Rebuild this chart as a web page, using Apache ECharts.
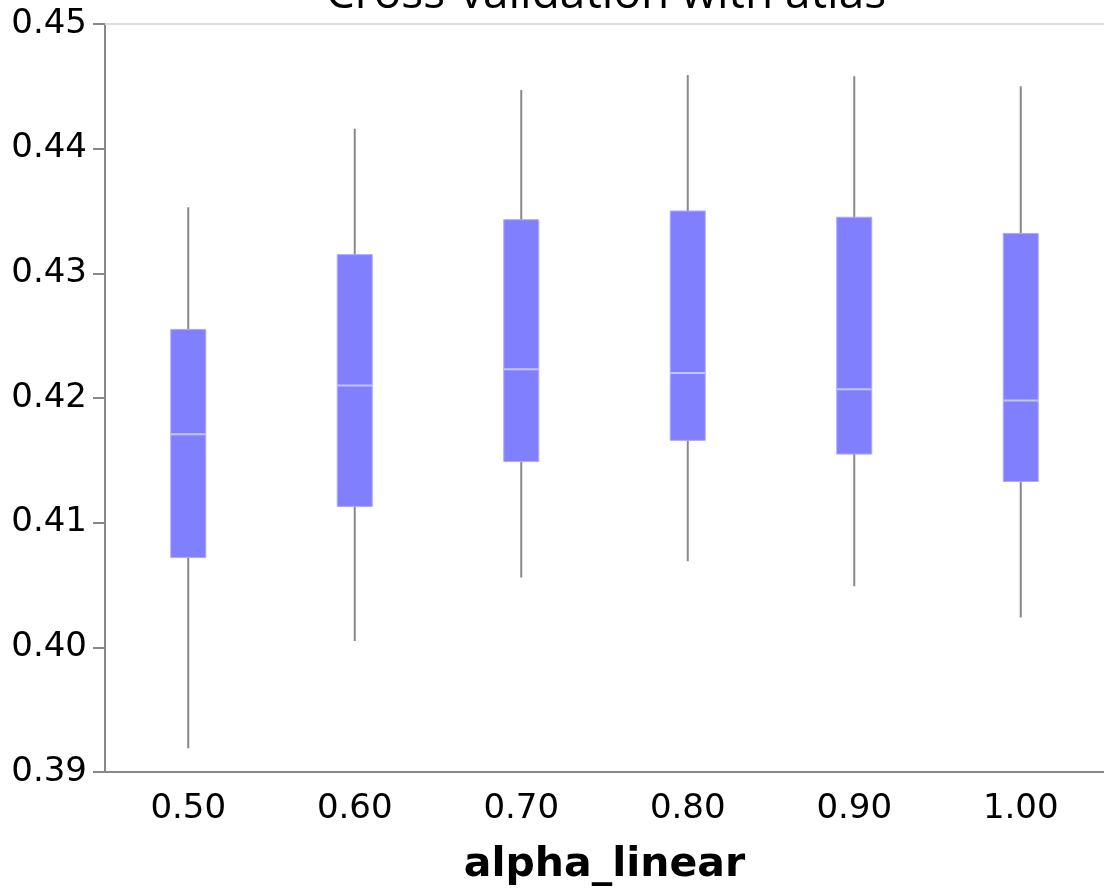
<!DOCTYPE html>
<html>
<head>
<meta charset="utf-8">
<style>
  html, body { margin: 0; padding: 0; background: #fff; }
  #chart { width: 1104px; height: 891px; }
</style>
<script src="https://cdn.jsdelivr.net/npm/echarts@6/dist/echarts.min.js"></script>
</head>
<body>
<div id="chart"></div>
<script>
// alpha_linear settings on the x axis
const categories = ['0.50', '0.60', '0.70', '0.80', '0.90', '1.00'];
// box-plot statistics per alpha_linear setting
const whiskerLow  = [0.3919, 0.4005, 0.4056, 0.4069, 0.4049, 0.4024];
const q1          = [0.4072, 0.4113, 0.4149, 0.4166, 0.4155, 0.4133];
const median      = [0.4171, 0.4210, 0.4223, 0.4220, 0.4207, 0.4198];
const q3          = [0.4255, 0.4315, 0.4343, 0.4350, 0.4345, 0.4332];
const whiskerHigh = [0.4353, 0.4416, 0.4447, 0.4459, 0.4458, 0.4450];
// y axis range and step
const yMin = 0.39, yMax = 0.45, yStep = 0.01;

const boxData = categories.map((c, i) =>
  [i, whiskerLow[i], q1[i], median[i], q3[i], whiskerHigh[i]]);

const BOX_WIDTH = 35;
const AXIS_GREY = '#888888';
const LABEL_FONT = 'DejaVu Sans';

// one whisker line from min to max, the interquartile box on top, then the median bar
function renderBox(params, api) {
  const idx = api.value(0);
  const pLow = api.coord([idx, api.value(1)]);
  const pQ1 = api.coord([idx, api.value(2)]);
  const pMed = api.coord([idx, api.value(3)]);
  const pQ3 = api.coord([idx, api.value(4)]);
  const pHigh = api.coord([idx, api.value(5)]);
  const cx = pLow[0];
  const half = BOX_WIDTH / 2;
  return {
    type: 'group',
    children: [
      {
        type: 'line',
        shape: { x1: cx, y1: pLow[1], x2: cx, y2: pHigh[1] },
        style: { stroke: AXIS_GREY, lineWidth: 2 }
      },
      {
        type: 'rect',
        shape: { x: cx - half, y: pQ3[1], width: BOX_WIDTH, height: pQ1[1] - pQ3[1] },
        style: { fill: '#8080ff', stroke: '#a9a9ff', lineWidth: 1 }
      },
      {
        type: 'line',
        shape: { x1: cx - half, y1: pMed[1], x2: cx + half, y2: pMed[1] },
        style: { stroke: '#c4c4ff', lineWidth: 2 }
      }
    ]
  };
}

const chart = echarts.init(document.getElementById('chart'), null, { renderer: 'canvas' });
chart.setOption({
  animation: false,
  backgroundColor: '#ffffff',
  title: {
    text: 'Cross-validation with atlas',
    left: 606,
    top: -28,
    textAlign: 'center',
    padding: 0,
    textStyle: { fontFamily: 'Open Sans', fontSize: 46, fontWeight: 'normal', color: '#000' }
  },
  grid: { left: 105, right: 0, top: 24, bottom: 117, containLabel: false },
  xAxis: [
    {
      type: 'category',
      data: categories,
      position: 'bottom',
      name: 'alpha_linear',
      nameLocation: 'middle',
      nameGap: 73,
      nameTextStyle: { fontFamily: LABEL_FONT, fontSize: 41, fontWeight: 'bold', color: '#000' },
      axisLine: { lineStyle: { color: AXIS_GREY, width: 2 } },
      axisTick: { alignWithLabel: true, length: 12, lineStyle: { color: AXIS_GREY, width: 2 } },
      axisLabel: { margin: 20, fontFamily: LABEL_FONT, fontSize: 34, color: '#000' },
      splitLine: { show: false }
    },
    {
      type: 'category',
      data: categories,
      position: 'top',
      axisLine: { lineStyle: { color: '#dddddd', width: 2 } },
      axisTick: { show: false },
      axisLabel: { show: false },
      splitLine: { show: false }
    }
  ],
  yAxis: {
    type: 'value',
    min: yMin,
    max: yMax,
    interval: yStep,
    axisLine: { show: true, lineStyle: { color: AXIS_GREY, width: 2 } },
    axisTick: { show: true, length: 12, lineStyle: { color: AXIS_GREY, width: 2 } },
    axisLabel: {
      margin: 18,
      fontFamily: LABEL_FONT,
      fontSize: 34,
      color: '#000',
      formatter: v => v.toFixed(2)
    },
    splitLine: { show: false }
  },
  series: [
    {
      type: 'custom',
      name: 'score',
      xAxisIndex: 0,
      renderItem: renderBox,
      encode: { x: 0, y: [1, 2, 3, 4, 5] },
      data: boxData,
      z: 3
    }
  ]
});
</script>
</body>
</html>
